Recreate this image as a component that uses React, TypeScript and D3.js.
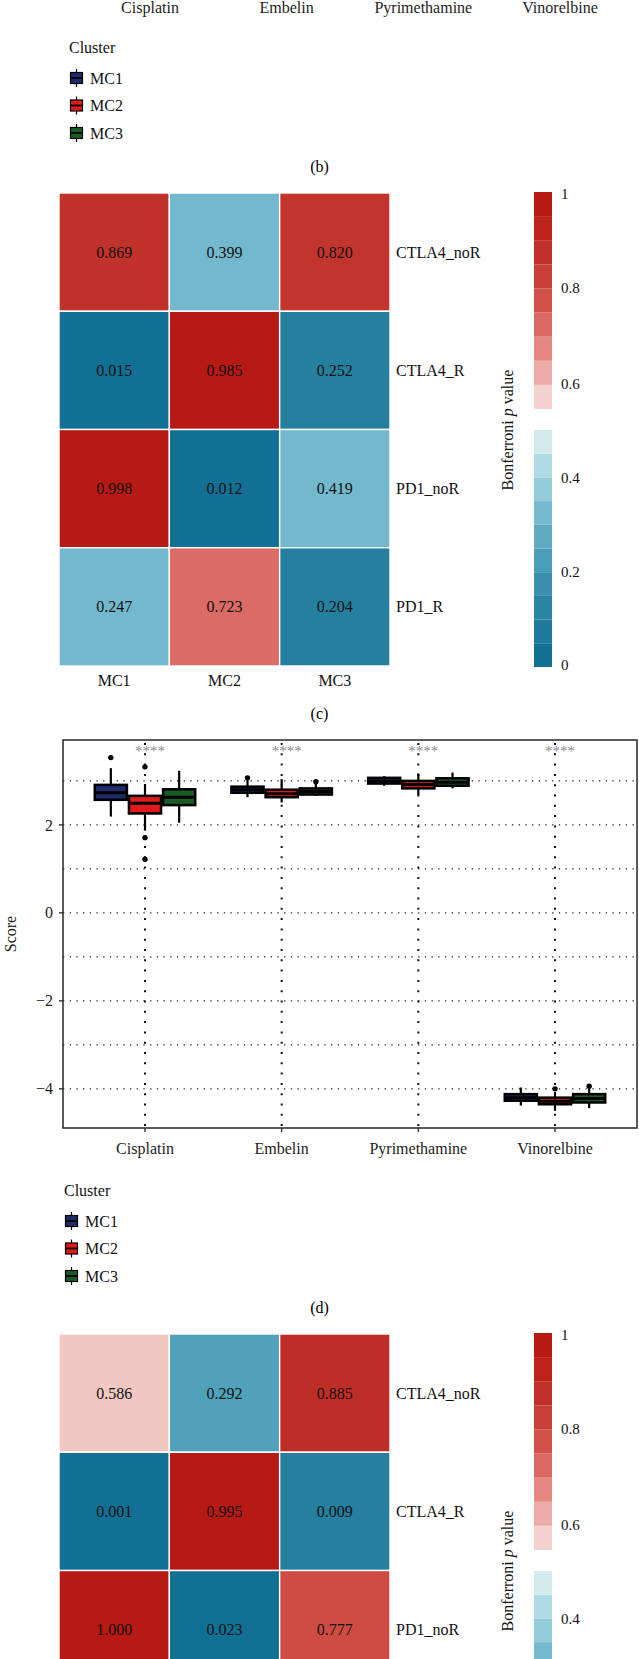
import React from "react";
import * as d3 from "d3";

// ---------- data ----------
const drugs = ["Cisplatin", "Embelin", "Pyrimethamine", "Vinorelbine"];
const clusters = ["MC1", "MC2", "MC3"];
// [lower whisker, Q1, median, Q3, upper whisker] per drug
const mc1Stats = [
  [2.19, 2.57, 2.73, 2.91, 3.29],
  [2.63, 2.73, 2.8, 2.87, 3.02],
  [2.89, 2.94, 3.0, 3.07, 3.11],
  [-4.38, -4.27, -4.2, -4.12, -3.97],
];
const mc2Stats = [
  [1.87, 2.26, 2.49, 2.66, 2.93],
  [2.51, 2.63, 2.71, 2.8, 3.04],
  [2.68, 2.83, 2.92, 3.0, 3.17],
  [-4.5, -4.35, -4.28, -4.2, -4.07],
];
const mc3Stats = [
  [2.05, 2.45, 2.63, 2.81, 3.23],
  [2.66, 2.69, 2.76, 2.83, 2.93],
  [2.83, 2.89, 2.97, 3.06, 3.19],
  [-4.44, -4.31, -4.22, -4.12, -4.0],
];
const mc1Outliers = [[3.53], [3.07], [], []];
const mc2Outliers = [[3.32, 1.71, 1.22], [], [], [-4.0]];
const mc3Outliers = [[], [2.98], [], [-3.94]];
const sigLabels = ["****", "****", "****", "****"];
const yTicks = [2, 0, -2, -4];
const yGrid = [3, 2, 1, 0, -1, -2, -3, -4];

const hmRows = ["CTLA4_noR", "CTLA4_R", "PD1_noR", "PD1_R"];
const pValuesC = [
  [0.869, 0.399, 0.82],
  [0.015, 0.985, 0.252],
  [0.998, 0.012, 0.419],
  [0.247, 0.723, 0.204],
];
const shadeC = [
  [0.87, 0.32, 0.86],
  [0.02, 0.98, 0.1],
  [0.99, 0.02, 0.32],
  [0.32, 0.72, 0.1],
];
const pValuesD = [
  [0.586, 0.292, 0.885],
  [0.001, 0.995, 0.009],
  [1.0, 0.023, 0.777],
];
const shadeD = [
  [0.59, 0.24, 0.885],
  [0.01, 0.995, 0.1],
  [1.0, 0.02, 0.79],
];
const redTicks = [0.6, 0.8, 1];
const blueTicks = [0, 0.2, 0.4];

// palette
const clusterFills = ["#1E2B6B", "#E2191C", "#1A5C26"];
const blueBands = ["#127094", "#1F7A9B", "#2A84A2", "#3890AC", "#4A9DB7", "#5DAAC1", "#75BACE", "#94CCD9", "#B0DAE4", "#D2ECEE"];
const redBands = ["#F3D2CD", "#ECADA8", "#E48881", "#DA6863", "#D05249", "#C83F35", "#C0302A", "#BB231B", "#B71A15"];

const FONT = "'Liberation Serif', 'Times New Roman', serif";
const W = 639;
const H = 1659;
const visible = (yy: number) => yy < H - 8;

const cellColor = d3
  .scaleLinear<string>()
  .domain([...blueBands.map((_, i) => 0.025 + i * 0.05), ...redBands.map((_, i) => 0.575 + i * 0.05)])
  .range([...blueBands, ...redBands])
  .interpolate(d3.interpolateRgb)
  .clamp(true);

function Legend({ dx, y0 }: { dx: number; y0: number }) {
  const rowsY = [y0 + 31, y0 + 58.5, y0 + 86];
  return (
    <g fontFamily={FONT} fontSize={16} fill="#111">
      <text x={64 + dx} y={y0} dy="0.35em">Cluster</text>
      {clusters.map((c, i) => {
        const cx = 71.5 + dx;
        const cy = rowsY[i];
        return (
          <g key={c}>
            <line x1={cx} x2={cx} y1={cy - 9} y2={cy + 9} stroke="#000" strokeWidth={1.2} />
            <rect x={cx - 6} y={cy - 5.5} width={12} height={11} fill={clusterFills[i]} stroke="#000" strokeWidth={1.2} />
            <line x1={cx - 6} x2={cx + 6} y1={cy} y2={cy} stroke="#000" strokeWidth={1.8} />
            <text x={85 + dx} y={cy} dy="0.35em">{c}</text>
          </g>
        );
      })}
    </g>
  );
}

function Heatmap({ top, values, shades }: { top: number; values: number[][]; shades: number[][] }) {
  const xH = d3.scaleBand<string>().domain(clusters).range([59, 390]);
  const yH = d3.scaleBand<string>().domain(hmRows).range([top, top + 473]);
  const redY = d3.scaleLinear().domain([0.55, 1]).range([top + 216, top - 1]);
  const blueY = d3.scaleLinear().domain([0, 0.5]).range([top + 474, top + 237]);
  const colLabelY = top + 487;
  return (
    <g fontFamily={FONT}>
      {values.map((row, ri) =>
        row.map((v, ci) => {
          const x0 = xH(clusters[ci])!;
          const y0 = yH(hmRows[ri])!;
          return (
            <g key={`${ri}-${ci}`}>
              <rect x={x0} y={y0} width={xH.bandwidth()} height={yH.bandwidth()} fill={cellColor(shades[ri][ci])} stroke="#fff" strokeWidth={1.4} />
              <text x={x0 + xH.bandwidth() / 2} y={y0 + yH.bandwidth() / 2} dy="0.35em" textAnchor="middle" fontSize={16} fill="#111">
                {v.toFixed(3)}
              </text>
            </g>
          );
        })
      )}
      {hmRows
        .filter((r) => visible(yH(r)! + yH.bandwidth() / 2))
        .map((r) => (
          <text key={r} x={396} y={yH(r)! + yH.bandwidth() / 2} dy="0.35em" fontSize={16} fill="#111">
            {r}
          </text>
        ))}
      {visible(colLabelY) &&
        clusters.map((c) => (
          <text key={c} x={xH(c)! + xH.bandwidth() / 2} y={colLabelY} dy="0.35em" textAnchor="middle" fontSize={16} fill="#111">
            {c}
          </text>
        ))}
      {/* colour bars */}
      {redBands.map((col, i) => {
        const a = 0.55 + i * 0.05;
        return <rect key={`r${i}`} x={534} width={18} y={redY(a + 0.05)} height={redY(a) - redY(a + 0.05)} fill={col} />;
      })}
      {blueBands.map((col, i) => {
        const a = i * 0.05;
        return <rect key={`b${i}`} x={534} width={18} y={blueY(a + 0.05)} height={blueY(a) - blueY(a + 0.05)} fill={col} />;
      })}
      {redTicks.map((t) => (
        <text key={`rt${t}`} x={561} y={redY(t) + (t === 1 ? 2 : -1)} dy="0.35em" fontSize={15} fill="#111">
          {d3.format("~g")(t)}
        </text>
      ))}
      {blueTicks
        .filter((t) => visible(blueY(t)))
        .map((t) => (
          <text key={`bt${t}`} x={561} y={blueY(t) - (t === 0 ? 2 : 0)} dy="0.35em" fontSize={15} fill="#111">
            {d3.format("~g")(t)}
          </text>
        ))}
      <text transform={`translate(507,${top + 237}) rotate(-90)`} textAnchor="middle" dy="0.35em" fontSize={16} fill="#111">
        Bonferroni <tspan fontStyle="italic">p</tspan> value
      </text>
    </g>
  );
}

function BoxPanel() {
  const left = 63, right = 637, top = 740, bottom = 1128;
  const x = d3.scalePoint<string>().domain(drugs).range([left, right]).padding(0.6);
  const y = d3.scaleLinear().domain([-4.89, 3.93]).range([bottom, top]);
  const dodgeW = x.step() * 0.75;
  const dodge = d3.scaleBand<string>().domain(clusters).range([-dodgeW / 2, dodgeW / 2]);
  const bw = dodge.bandwidth() * 0.94;
  const stats = [mc1Stats, mc2Stats, mc3Stats];
  const outs = [mc1Outliers, mc2Outliers, mc3Outliers];
  return (
    <g fontFamily={FONT}>
      {yGrid.map((g) => (
        <line key={`h${g}`} x1={left} x2={right} y1={y(g)} y2={y(g)} stroke="#222" strokeWidth={1.1} strokeDasharray="1.3,5.4" />
      ))}
      {drugs.map((d) => (
        <line key={`v${d}`} x1={x(d)} x2={x(d)} y1={top} y2={bottom} stroke="#111" strokeWidth={2} strokeDasharray="2,8.3" strokeDashoffset={-3} />
      ))}
      {clusters.map((c, ci) =>
        drugs.map((d, di) => {
          const [lo, q1, med, q3, hi] = stats[ci][di];
          const cx = x(d)! + dodge(c)! + dodge.bandwidth() / 2;
          return (
            <g key={`${c}-${d}`}>
              <line x1={cx} x2={cx} y1={y(hi)} y2={y(lo)} stroke="#000" strokeWidth={2.2} />
              <rect x={cx - bw / 2} y={y(q3)} width={bw} height={y(q1) - y(q3)} fill={clusterFills[ci]} stroke="#000" strokeWidth={2.5} />
              <line x1={cx - bw / 2} x2={cx + bw / 2} y1={y(med)} y2={y(med)} stroke="#000" strokeWidth={3} />
              {outs[ci][di].map((o, oi) => (
                <circle key={oi} cx={cx} cy={y(o)} r={2.7} fill="#000" />
              ))}
            </g>
          );
        })
      )}
      {drugs.map((d, i) => (
        <text key={`s${d}`} x={x(d)! + 5} y={756} textAnchor="middle" fontSize={15} fill="#8a8a8a">
          {sigLabels[i]}
        </text>
      ))}
      <rect x={left} y={top} width={right - left} height={bottom - top} fill="none" stroke="#333" strokeWidth={1.6} />
      {yTicks.map((t) => (
        <g key={`yt${t}`}>
          <line x1={left - 4} x2={left} y1={y(t)} y2={y(t)} stroke="#333" strokeWidth={1.4} />
          <text x={53} y={y(t)} dy="0.35em" textAnchor="end" fontSize={16} fill="#222">
            {t < 0 ? `\u2212${Math.abs(t)}` : `${t}`}
          </text>
        </g>
      ))}
      {drugs.map((d) => (
        <g key={`xt${d}`}>
          <line x1={x(d)} x2={x(d)} y1={bottom} y2={bottom + 4} stroke="#333" strokeWidth={1.4} />
          <text x={x(d)} y={1148} dy="0.35em" textAnchor="middle" fontSize={16} fill="#222">
            {d}
          </text>
        </g>
      ))}
      <text transform={`translate(10,${(top + bottom) / 2}) rotate(-90)`} textAnchor="middle" dy="0.35em" fontSize={16} fill="#222">
        Score
      </text>
    </g>
  );
}

export default function App() {
  const xTop = d3.scalePoint<string>().domain(drugs).range([68, 642]).padding(0.6);
  return (
    <svg width={W} height={H} viewBox={`0 0 ${W} ${H}`} style={{ position: "absolute", left: 0, top: 0, background: "#fff" }}>
      <rect x={0} y={0} width={W} height={H} fill="#fff" />
      {/* tail of panel (b) */}
      <g fontFamily={FONT} fontSize={16} fill="#222">
        {drugs.map((d) => (
          <text key={d} x={xTop(d)} y={7} dy="0.35em" textAnchor="middle">
            {d}
          </text>
        ))}
      </g>
      <Legend dx={5} y0={47} />
      <text x={319.5} y={166} dy="0.35em" textAnchor="middle" fontFamily={FONT} fontSize={16}>(b)</text>
      <Heatmap top={193} values={pValuesC} shades={shadeC} />
      <text x={319.5} y={713} dy="0.35em" textAnchor="middle" fontFamily={FONT} fontSize={16}>(c)</text>
      <BoxPanel />
      <Legend dx={0} y0={1190} />
      <text x={319.5} y={1307} dy="0.35em" textAnchor="middle" fontFamily={FONT} fontSize={16}>(d)</text>
      <Heatmap top={1334} values={pValuesD} shades={shadeD} />
    </svg>
  );
}
